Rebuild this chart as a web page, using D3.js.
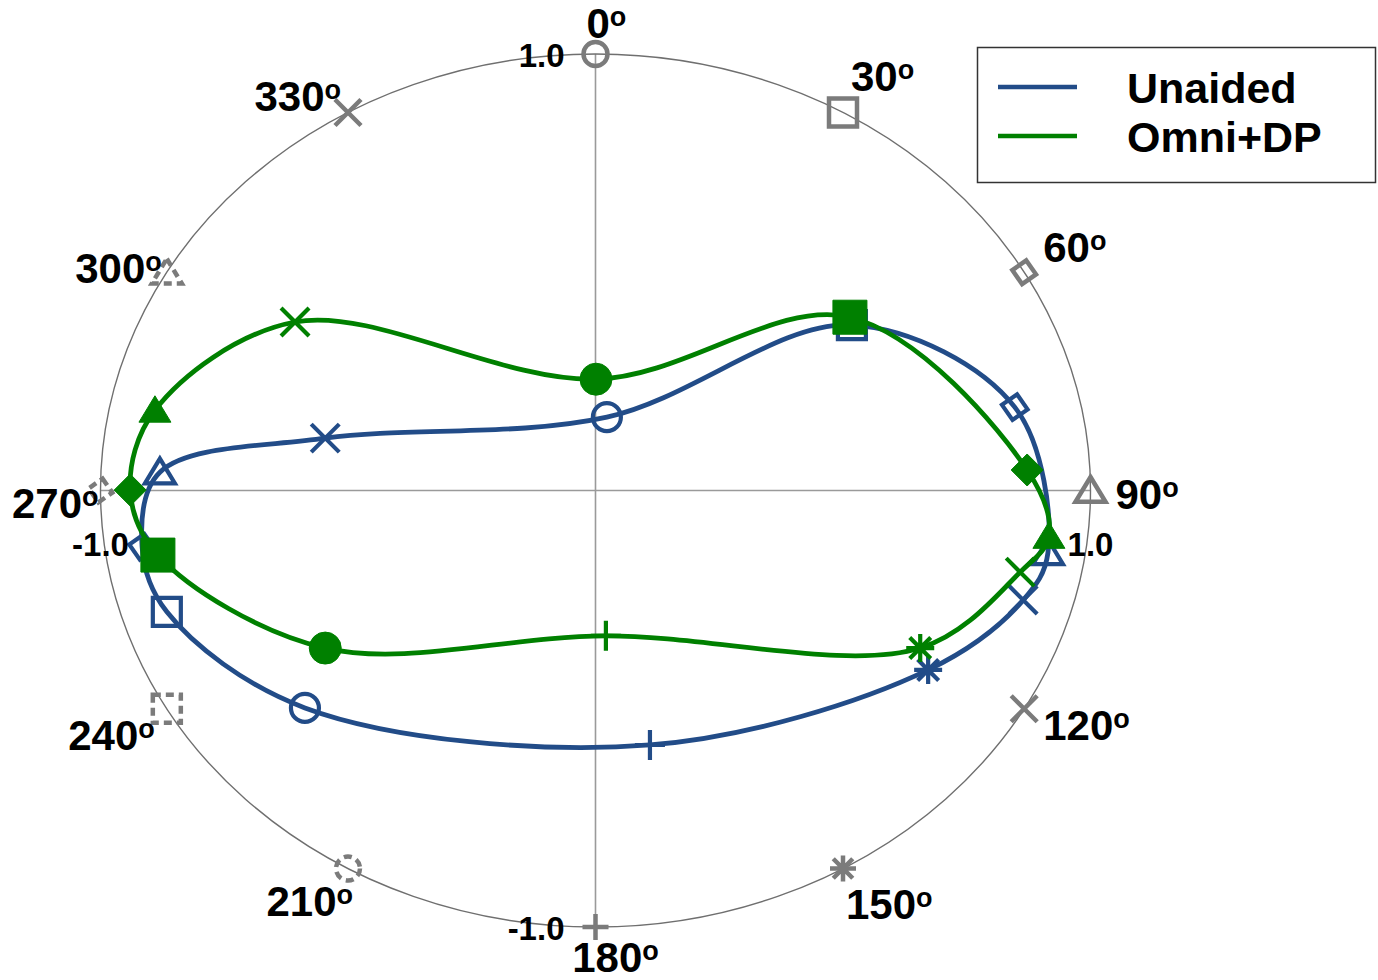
<!DOCTYPE html>
<html>
<head>
<meta charset="utf-8">
<script src="https://cdn.jsdelivr.net/npm/d3@7"></script>
<style>
  html, body { margin: 0; padding: 0; background: #fff; }
  svg { display: block; }
  text { font-family: "Liberation Sans", Arial, sans-serif; font-weight: bold; fill: #000; }
</style>
</head>
<body>
<svg id="chart" width="1378" height="980"></svg>
<script>
// Angular reference directions around the outer ring
const angles = [0, 30, 60, 90, 120, 150, 180, 210, 240, 270, 300, 330];
const angleLabels = ["0", "30", "60", "90", "120", "150", "180", "210", "240", "270", "300", "330"];
const markerTypes = ["circle", "square", "diamond", "triangle", "x", "asterisk", "plus",
                     "circle", "square", "diamond", "triangle", "x"];
const dashedAngles = [210, 240, 270, 300];

// Axis tick labels
const xTickValues = [-1, 1];
const xTickLabels = ["-1.0", "1.0"];
const yTickValues = [1, -1];
const yTickLabels = ["1.0", "-1.0"];

// Series names
const seriesNames = ["Unaided", "Omni+DP"];

// Unaided response, one point per direction (x, y in normalised units)
const unaidedX = [0.023, 0.518, 0.847, 0.914, 0.864, 0.672, 0.110, -0.587, -0.866, -0.916, -0.880, -0.546];
const unaidedY = [0.168, 0.379, 0.191, -0.143, -0.251, -0.411, -0.583, -0.498, -0.278, -0.129, 0.042, 0.120];

// Omni+DP response
const omniX = [0.001, 0.514, 0.872, 0.916, 0.858, 0.656, 0.021, -0.546, -0.884, -0.940, -0.890, -0.607];
const omniY = [0.255, 0.397, 0.047, -0.105, -0.187, -0.361, -0.333, -0.361, -0.148, 0.001, 0.184, 0.386];

const svg = d3.select("#chart");

const x = d3.scaleLinear().domain([-1, 1]).range([100.5, 1090.5]);
const y = d3.scaleLinear().domain([-1, 1]).range([927, 54]);
const cx = x(0), cy = y(0);
const rx = x(1) - cx, ry = cy - y(1);

const gray = "#7b7b7b";
const colors = ["#224c88", "#008000"];

// marker outline generators, s = half size
function markerPath(type, s) {
  switch (type) {
    case "circle": return `M${s},0A${s},${s} 0 1,1 ${-s},0A${s},${s} 0 1,1 ${s},0Z`;
    case "square": return `M${-s},${-s}H${s}V${s}H${-s}Z`;
    case "diamond": return `M0,${-s}L${s},0L0,${s}L${-s},0Z`;
    case "triangle": return `M0,${-s * 0.9}L${s},${s * 0.75}L${-s},${s * 0.75}Z`;
    case "x": return `M${-s},${-s}L${s},${s}M${-s},${s}L${s},${-s}`;
    case "plus": return `M0,${-s}V${s}M${-s},0H${s}`;
    case "asterisk": {
      const d = s * 0.75;
      return `M0,${-s}V${s}M${-s},0H${s}M${-d},${-d}L${d},${d}M${-d},${d}L${d},${-d}`;
    }
  }
}
const isLineMarker = t => t === "x" || t === "plus" || t === "asterisk";

// axes
const axes = svg.append("g");
axes.append("line").attr("x1", x(-1)).attr("x2", x(1)).attr("y1", cy).attr("y2", cy)
  .attr("stroke", "#9a9a9a").attr("stroke-width", 1.6);
axes.append("line").attr("x1", cx).attr("x2", cx).attr("y1", y(1)).attr("y2", y(-1))
  .attr("stroke", "#9a9a9a").attr("stroke-width", 1.6);

// outer ring (unit circle in data units)
axes.append("ellipse").attr("cx", cx).attr("cy", cy).attr("rx", rx).attr("ry", ry)
  .attr("fill", "none").attr("stroke", "#6f6f6f").attr("stroke-width", 1.4);

// ring direction markers
const ringSizes = { circle: 12, square: 14, diamond: 12, triangle: 15, x: 13, asterisk: 13, plus: 13 };
const ring = svg.append("g");
angles.forEach((a, i) => {
  const t = a * Math.PI / 180;
  const px = x(Math.sin(t)), py = y(Math.cos(t));
  const type = markerTypes[i];
  const dashed = dashedAngles.includes(a);
  ring.append("path")
    .attr("d", markerPath(type, ringSizes[type]))
    .attr("transform", `translate(${px},${py})` + (type === "diamond" ? " rotate(10)" : ""))
    .attr("fill", "none")
    .attr("stroke", gray)
    .attr("stroke-width", 4.5)
    .attr("stroke-dasharray", dashed ? "8,5" : null);
});

// label offsets relative to ring point: [dx, dy, anchor]
const labelLayout = [
  [-9, -16, "start"], [8, -21, "start"], [19, -10, "start"], [25, 18, "start"],
  [19, 31, "start"], [3, 50, "start"], [20, 45, "middle"], [5, 47, "end"],
  [-12, 41, "end"], [-2, 27, "end"], [-5, 11, "end"], [-7, -1, "end"]
];
const labels = svg.append("g");
angles.forEach((a, i) => {
  const t = a * Math.PI / 180;
  const [dx, dy, anchor] = labelLayout[i];
  const txt = labels.append("text")
    .attr("x", x(Math.sin(t)) + dx)
    .attr("y", y(Math.cos(t)) + dy)
    .attr("text-anchor", anchor)
    .attr("font-size", 42);
  txt.append("tspan").text(angleLabels[i]);
  txt.append("tspan").attr("font-size", 27).attr("dy", -12).text("o");
});

// series curves and markers
const series = [
  { name: seriesNames[0], xs: unaidedX, ys: unaidedY, color: colors[0], filled: false },
  { name: seriesNames[1], xs: omniX, ys: omniY, color: colors[1], filled: true }
];
const line = d3.line()
  .x(d => x(d[0]))
  .y(d => y(d[1]))
  .curve(d3.curveCatmullRomClosed.alpha(0.5));

series.forEach(s => {
  const pts = s.xs.map((v, i) => [v, s.ys[i]]);
  const g = svg.append("g");
  g.append("path")
    .attr("d", line(pts))
    .attr("fill", "none")
    .attr("stroke", s.color)
    .attr("stroke-width", 4.8);
  const sizes = s.filled
    ? { circle: 16, square: 17, diamond: 16, triangle: 16, x: 14, asterisk: 14, plus: 15 }
    : { circle: 14, square: 14, diamond: 13, triangle: 15, x: 14, asterisk: 14, plus: 15 };
  pts.forEach((p, i) => {
    const type = markerTypes[i];
    const fillIt = s.filled && !isLineMarker(type);
    g.append("path")
      .attr("d", markerPath(type, sizes[type]))
      .attr("transform", `translate(${x(p[0])},${y(p[1])})` + (type === "diamond" && !s.filled ? " rotate(10)" : ""))
      .attr("fill", fillIt ? s.color : "none")
      .attr("stroke", s.color)
      .attr("stroke-width", fillIt ? 1 : 4.2);
  });
});

// tick labels
const ticks = svg.append("g");
xTickValues.forEach((v, i) => {
  ticks.append("text").attr("x", x(v)).attr("y", cy + 65)
    .attr("text-anchor", "middle").attr("font-size", 33).text(xTickLabels[i]);
});
yTickValues.forEach((v, i) => {
  ticks.append("text").attr("x", cx - 31).attr("y", y(v) + 13)
    .attr("text-anchor", "end").attr("font-size", 33).text(yTickLabels[i]);
});

// legend
const legend = svg.append("g");
legend.append("rect").attr("x", 977.5).attr("y", 47.5).attr("width", 398).attr("height", 135)
  .attr("fill", "#fff").attr("stroke", "#333").attr("stroke-width", 1.5);
series.forEach((s, i) => {
  const ly = 87 + i * 49;
  legend.append("line").attr("x1", 998).attr("x2", 1077).attr("y1", ly).attr("y2", ly)
    .attr("stroke", s.color).attr("stroke-width", 4.5);
  legend.append("text").attr("x", 1127).attr("y", ly + 16).attr("font-size", 43).text(s.name);
});
</script>
</body>
</html>
